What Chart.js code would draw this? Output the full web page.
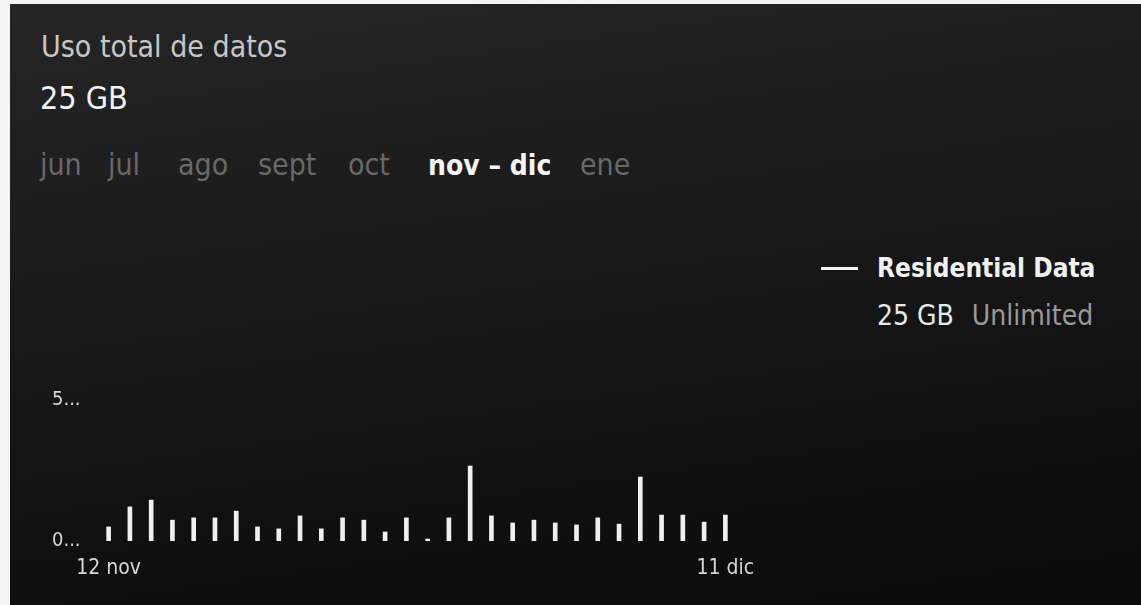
<!DOCTYPE html>
<html>
<head>
<meta charset="utf-8">
<script src="https://cdn.jsdelivr.net/npm/chart.js@4.4.0/dist/chart.umd.min.js"></script>
<style>
  html, body { margin: 0; padding: 0; background: #f4f4f4; }
  body { width: 1141px; height: 605px; position: relative; overflow: hidden; font-family: "DejaVu Sans Condensed", "DejaVu Sans", sans-serif; }
  #panel {
    position: absolute; left: 10px; top: 4px; width: 1131px; height: 601px;
    background: linear-gradient(172deg, #252525 0%, #1b1b1b 35%, #111111 70%, #0a0a0a 100%);
  }
  .abs { position: absolute; white-space: nowrap; }
  #title { left: 41px; top: 29px; font-size: 30px; color: #c6c6c6; }
  #total { left: 40px; top: 79px; font-size: 32px; color: #f2f2f2; }
  .tab { top: 147px; font-size: 30px; color: #686868; }
  .tab.on { color: #f4f4f4; font-weight: bold; font-size: 28px; top: 149px; }
  #legLine { left: 821px; top: 267px; width: 37px; height: 3px; background: #f4f4f4; }
  #legName { left: 877px; top: 253px; font-size: 26px; font-weight: bold; color: #f0f0f0; }
  #legVal { left: 877px; top: 299px; font-size: 28px; color: #e8e8e8; }
  #legVal span { color: #9a9a9a; margin-left: 18px; }
  #chartBox { position: absolute; left: 52px; top: 390px; width: 760px; height: 196px; }
</style>
</head>
<body>
<div id="panel"></div>
<div class="abs" id="title">Uso total de datos</div>
<div class="abs" id="total">25 GB</div>
<div class="abs tab" style="left:40px">jun</div>
<div class="abs tab" style="left:108px">jul</div>
<div class="abs tab" style="left:178px">ago</div>
<div class="abs tab" style="left:258px">sept</div>
<div class="abs tab" style="left:348px">oct</div>
<div class="abs tab on" style="left:428px">nov – dic</div>
<div class="abs tab" style="left:580px">ene</div>
<div class="abs" id="legLine"></div>
<div class="abs" id="legName">Residential Data</div>
<div class="abs" id="legVal">25 GB<span>Unlimited</span></div>
<div id="chartBox"><canvas id="c"></canvas></div>
<script>
const categories = ["12 nov","13 nov","14 nov","15 nov","16 nov","17 nov","18 nov","19 nov","20 nov","21 nov",
  "22 nov","23 nov","24 nov","25 nov","26 nov","27 nov","28 nov","29 nov","30 nov","1 dic",
  "2 dic","3 dic","4 dic","5 dic","6 dic","7 dic","8 dic","9 dic","10 dic","11 dic"];
const usageGB = [0.50, 1.21, 1.45, 0.74, 0.82, 0.82, 1.06, 0.50, 0.43, 0.89,
  0.43, 0.82, 0.74, 0.32, 0.82, 0.07, 0.82, 2.66, 0.89, 0.64,
  0.74, 0.64, 0.57, 0.82, 0.60, 2.27, 0.92, 0.92, 0.67, 0.92];
const yTickValues = [0, 5];
const yTickLabels = ["0...", "5..."];
const xShownLabels = ["12 nov", "11 dic"];

const fontFam = '"DejaVu Sans Condensed", "DejaVu Sans", sans-serif';

new Chart(document.getElementById('c'), {
  type: 'bar',
  data: {
    labels: categories,
    datasets: [{
      label: 'Residential Data',
      data: usageGB,
      backgroundColor: '#efefef',
      barThickness: 4
    }]
  },
  options: {
    responsive: true,
    maintainAspectRatio: false,
    animation: false,
    layout: { padding: { top: 10, right: 76, left: 0, bottom: 0 } },
    plugins: { legend: { display: false }, tooltip: { enabled: false } },
    scales: {
      x: {
        grid: { display: false, drawTicks: false },
        border: { display: false },
        ticks: {
          autoSkip: false, maxRotation: 0, padding: 15,
          color: '#d6d6d6',
          font: { family: fontFam, size: 21 },
          callback: function(v, i) { const l = categories[i]; return xShownLabels.includes(l) ? l : ''; }
        },
        afterFit: function(s) { s.paddingLeft = 0; s.paddingRight = 0; s.height = 45; }
      },
      y: {
        min: 0, max: 5,
        grid: { display: false, drawTicks: false },
        border: { display: false },
        afterBuildTicks: function(s) { s.ticks = yTickValues.map(v => ({ value: v })); },
        ticks: {
          crossAlign: 'far', padding: 0,
          color: '#d6d6d6',
          font: { family: fontFam, size: 20 },
          callback: function(v) { const i = yTickValues.indexOf(v); return i >= 0 ? yTickLabels[i] : ''; }
        },
        afterFit: function(s) { s.width = 46; s.paddingTop = 0; s.paddingBottom = 0; }
      }
    }
  }
});
</script>
</body>
</html>
